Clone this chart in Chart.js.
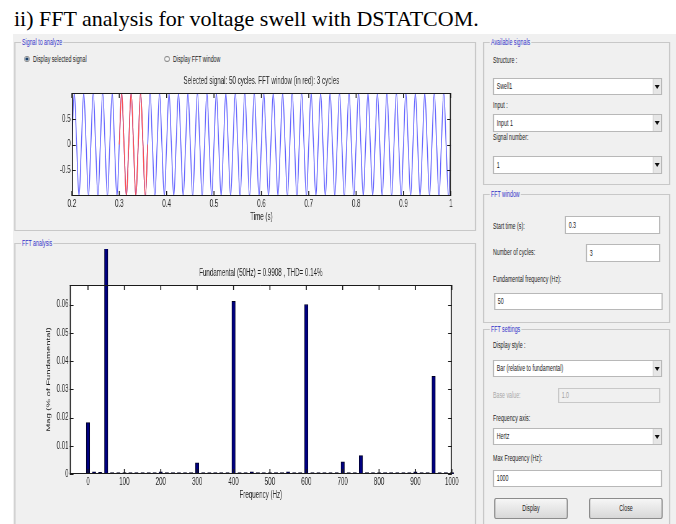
<!DOCTYPE html>
<html>
<head>
<meta charset="utf-8">
<script src="https://cdn.jsdelivr.net/npm/chart.js@4.4.1/dist/chart.umd.min.js"></script>
<style>
html,body{margin:0;padding:0;background:#fff;}
body{width:676px;height:524px;overflow:hidden;position:relative;font-family:"Liberation Sans",Arial,sans-serif;}
#title{position:absolute;left:14px;top:8px;font:22px/22px "Liberation Serif","Times New Roman",serif;color:#000;white-space:nowrap;}
#gui{position:absolute;left:13px;top:34px;width:1069px;height:490px;background:#f0f0f0;
     transform:scaleX(0.62);transform-origin:0 0;overflow:hidden;}
#gui div{position:absolute;box-sizing:border-box;}
.panel{border:1px solid #c8c8c8;border-left-width:2px;border-right-width:2px;}
.legend{position:absolute;left:9px;top:-7px;padding:0 2px;background:#f0f0f0;color:#3030c8;
        font-size:8.5px;line-height:12px;white-space:nowrap;}
.lbl{font-size:8.5px;line-height:12px;color:#222;white-space:nowrap;}
.lbl.off{color:#a8a8a8;}
.box{background:#fff;border:1px solid #b8b8b8;border-left-width:2px;border-right-width:2px;
     font-size:8.5px;color:#1a1a1a;padding-left:4px;white-space:nowrap;}
.box.off{background:#f0f0f0;color:#a0a0a0;border-color:#c8c8c8;}
.drop::before{content:"";position:absolute;right:0;top:0;bottom:0;width:12px;background:#e6e6e6;border-left:1px solid #d0d0d0;}
.drop::after{content:"";position:absolute;right:2px;top:50%;margin-top:-2px;
             border-left:4px solid transparent;border-right:4px solid transparent;border-top:4px solid #111;}
.btn{background:linear-gradient(#f6f6f6,#d8d8d8);border:1px solid #8c8c8c;border-left-width:2px;border-right-width:2px;
     border-radius:3px;font-size:8.5px;color:#1a1a1a;text-align:center;}
.radio{border:1px solid #8a8a8a;border-radius:50%;background:radial-gradient(#fff,#d8d8d8);}
.radio.on{background:radial-gradient(#1d3f66 35%,#8fa8c0 55%,#e0e0e0 70%);}
canvas{display:block;}
</style>
</head>
<body>
<div id="title">ii) FFT analysis for voltage swell with DSTATCOM.</div>
<div id="gui"></div>
<script>
// signal window (time axis in s, quarter-cycle samples of the 50 Hz wave)
const timeTicks = [0.2,0.3,0.4,0.5,0.6,0.7,0.8,0.9,1];
const signalTicks = [-0.5,0,0.5];
const signalT = [
  0.2,0.205,0.21,0.215,0.22,0.225,0.23,0.235,0.24,0.245,0.25,0.255,0.26,0.265,0.27,0.275,0.28,0.285,0.29,0.295,
  0.3,0.305,0.31,0.315,0.32,0.325,0.33,0.335,0.34,0.345,0.35,0.355,0.36,0.365,0.37,0.375,0.38,0.385,0.39,0.395,
  0.4,0.405,0.41,0.415,0.42,0.425,0.43,0.435,0.44,0.445,0.45,0.455,0.46,0.465,0.47,0.475,0.48,0.485,0.49,0.495,
  0.5,0.505,0.51,0.515,0.52,0.525,0.53,0.535,0.54,0.545,0.55,0.555,0.56,0.565,0.57,0.575,0.58,0.585,0.59,0.595,
  0.6,0.605,0.61,0.615,0.62,0.625,0.63,0.635,0.64,0.645,0.65,0.655,0.66,0.665,0.67,0.675,0.68,0.685,0.69,0.695,
  0.7,0.705,0.71,0.715,0.72,0.725,0.73,0.735,0.74,0.745,0.75,0.755,0.76,0.765,0.77,0.775,0.78,0.785,0.79,0.795,
  0.8,0.805,0.81,0.815,0.82,0.825,0.83,0.835,0.84,0.845,0.85,0.855,0.86,0.865,0.87,0.875,0.88,0.885,0.89,0.895,
  0.9,0.905,0.91,0.915,0.92,0.925,0.93,0.935,0.94,0.945,0.95,0.955,0.96,0.965,0.97,0.975,0.98,0.985,0.99,0.995,
  1
];
const signalV = [
  0,1,0,-1,0,1,0,-1,0,1,0,-1,0,1,0,-1,0,1,0,-1,
  0,1,0,-1,0,1,0,-1,0,1,0,-1,0,1,0,-1,0,1,0,-1,
  0,1,0,-1,0,1,0,-1,0,1,0,-1,0,1,0,-1,0,1,0,-1,
  0,1,0,-1,0,1,0,-1,0,1,0,-1,0,1,0,-1,0,1,0,-1,
  0,1,0,-1,0,1,0,-1,0,1,0,-1,0,1,0,-1,0,1,0,-1,
  0,1,0,-1,0,1,0,-1,0,1,0,-1,0,1,0,-1,0,1,0,-1,
  0,1,0,-1,0,1,0,-1,0,1,0,-1,0,1,0,-1,0,1,0,-1,
  0,1,0,-1,0,1,0,-1,0,1,0,-1,0,1,0,-1,0,1,0,-1,
  0
];
// FFT window, 3 cycles, drawn in red
const windowT = [0.3,0.305,0.31,0.315,0.32,0.325,0.33,0.335,0.34,0.345,0.35,0.355,0.36];
const windowV = [0,1,0,-1,0,1,0,-1,0,1,0,-1,0];

// FFT spectrum, bins every 16.7 Hz, magnitude in % of fundamental
const freqTicks = [0,100,200,300,400,500,600,700,800,900,1000];
const magTicks = [0,0.01,0.02,0.03,0.04,0.05,0.06];
const freqHz = [
  0,16.7,33.3,50,66.7,83.3,100,116.7,133.3,150,166.7,183.3,200,216.7,233.3,250,266.7,283.3,
  300,316.7,333.3,350,366.7,383.3,400,416.7,433.3,450,466.7,483.3,500,516.7,533.3,550,566.7,583.3,
  600,616.7,633.3,650,666.7,683.3,700,716.7,733.3,750,766.7,783.3,800,816.7,833.3,850,866.7,883.3,
  900,916.7,933.3,950,966.7,983.3,1000
];
const magPct = [
  0.0182,0.0008,0.0006,100,0.0002,0.0002,0.0005,0.0002,0.0002,0.0005,0.0002,0.0002,0.0008,0.0002,0.0002,0.0005,0.0002,0.0002,
  0.0040,0.0002,0.0002,0.0002,0.0002,0.0002,0.0612,0.0002,0.0002,0.0008,0.0002,0.0002,0.0002,0.0002,0.0002,0.0008,0.0002,0.0002,
  0.0601,0.0002,0.0002,0.0002,0.0002,0.0002,0.0043,0.0002,0.0002,0.0065,0.0002,0.0002,0.0002,0.0002,0.0002,0.0002,0.0002,0.0002,
  0.0008,0.0002,0.0002,0.0346,0.0002,0.0002,0.0002
];

// ---- GUI chrome (positions given in picture pixels, the panel is squeezed like the original screenshot)
const S = 0.62, GX = 13, GY = 34;
const gui = document.getElementById("gui");

function put(cls, text, x, y, w, h){
    const el = document.createElement("div");
    el.className = cls;
    if(text) el.textContent = text;
    el.style.left = (x - GX) / S + "px";
    el.style.top = (y - GY) + "px";
    if(w != null) el.style.width = w / S + "px";
    if(h != null) el.style.height = h + "px";
    gui.appendChild(el);
    return el;
}
function panel(title, x, y, w, h){
    const p = put("panel", "", x, y, w, h);
    const lg = document.createElement("span");
    lg.className = "legend";
    lg.textContent = title;
    p.appendChild(lg);
}
function label(text, x, y, off){ put("lbl" + (off ? " off" : ""), text, x, y - 6); }
function field(text, x1, y1, x2, y2, cls){
    const el = put("box" + (cls ? " " + cls : ""), text, x1, y1, x2 - x1, y2 - y1);
    el.style.lineHeight = (y2 - y1 - 2) + "px";
    return el;
}
function button(text, x1, y1, x2, y2){
    const el = put("btn", text, x1, y1, x2 - x1, y2 - y1);
    el.style.lineHeight = (y2 - y1 - 2) + "px";
}

panel("Signal to analyze", 14, 42, 462, 189);
panel("FFT analysis", 14, 243, 462, 300);
panel("Available signals", 483, 42, 187, 143);
panel("FFT window", 483, 194, 187, 129);
panel("FFT settings", 483, 329, 187, 200);

put("radio on", "", 24, 55.5, 5.5, 6);
label("Display selected signal", 33, 59);
put("radio", "", 164.5, 55.5, 5.5, 6);
label("Display FFT window", 173, 59);

label("Structure :", 493, 60);
field("Swell1", 493, 78, 662, 95, "drop");
label("Input :", 493, 105);
field("Input 1", 493, 114, 662, 132, "drop");
label("Signal number:", 493, 137);
field("1", 493, 156, 662, 174, "drop");

label("Start time (s):", 493, 226);
field("0.3", 565, 216, 660, 234);
label("Number of cycles:", 493, 252);
field("3", 586, 244, 660, 262);
label("Fundamental frequency (Hz):", 493, 279);
field("50", 494, 293, 663, 310);

label("Display style :", 493, 345);
field("Bar (relative to fundamental)", 493, 360, 662, 377, "drop");
label("Base value:", 493, 395, true);
field("1.0", 558, 388, 660, 403, "off");
label("Frequency axis:", 493, 418);
field("Hertz", 493, 428, 662, 445, "drop");
label("Max Frequency (Hz):", 493, 458);
field("1000", 493, 470, 662, 487);
button("Display", 494, 498, 568, 519);
button("Close", 589, 498, 663, 519);

// ---- charts
const FONT = '"Liberation Sans", Arial, sans-serif';
const INK = "#262626";

const matlabBox = {
    id: "matlabBox",
    beforeDraw(chart){
        const a = chart.chartArea, ctx = chart.ctx;
        ctx.save();
        ctx.fillStyle = "#fff";
        ctx.fillRect(a.left, a.top, a.right - a.left, a.bottom - a.top);
        ctx.restore();
    },
    afterDraw(chart){
        const {ctx, chartArea: a, scales: {x, y}} = chart;
        ctx.save();
        ctx.strokeStyle = "#1a1a1a";
        // vertical strokes are thicker because the canvas is squeezed sideways
        ctx.lineWidth = 1.6;
        ctx.beginPath();
        x.ticks.forEach(t => {
            const p = x.getPixelForValue(t.value);
            ctx.moveTo(p, a.bottom); ctx.lineTo(p, a.bottom - 5);
            ctx.moveTo(p, a.top); ctx.lineTo(p, a.top + 5);
        });
        ctx.moveTo(a.left + 0.8, a.top); ctx.lineTo(a.left + 0.8, a.bottom);
        ctx.moveTo(a.right - 0.8, a.top); ctx.lineTo(a.right - 0.8, a.bottom);
        ctx.stroke();
        ctx.lineWidth = 1;
        ctx.beginPath();
        y.ticks.forEach(t => {
            const p = Math.round(y.getPixelForValue(t.value)) + 0.5;
            ctx.moveTo(a.left, p); ctx.lineTo(a.left + 6, p);
            ctx.moveTo(a.right, p); ctx.lineTo(a.right - 6, p);
        });
        ctx.moveTo(a.left, Math.round(a.top) + 0.5); ctx.lineTo(a.right, Math.round(a.top) + 0.5);
        ctx.moveTo(a.left, Math.round(a.bottom) - 0.5); ctx.lineTo(a.right, Math.round(a.bottom) - 0.5);
        ctx.stroke();
        ctx.restore();
    }
};

function axis(min, max, tickList, opts){
    return Object.assign({
        type: "linear", min: min, max: max, offset: false,
        grid: {display: false, drawTicks: false},
        border: {display: false},
        afterBuildTicks: s => { s.ticks = tickList.map(v => ({value: v})); },
        ticks: {padding: 2, color: INK, font: {family: FONT, size: 10}, callback: v => String(v), autoSkip: false, maxRotation: 0}
    }, opts || {});
}

const sigWrap = put("", "", 20, 70, 450, 160);
const sigCanvas = document.createElement("canvas");
sigCanvas.width = 726; sigCanvas.height = 160;
sigWrap.appendChild(sigCanvas);

new Chart(sigCanvas, {
    type: "line",
    data: {
        datasets: [
            {data: windowT.map((t, i) => ({x: t, y: windowV[i]})), borderColor: "#ff4a4a", borderWidth: 1.5,
             pointRadius: 0, tension: 0.4},
            {data: signalT.map((t, i) => ({x: t, y: signalV[i]})), borderColor: "#6262ff", borderWidth: 1.5,
             pointRadius: 0, tension: 0.4}
        ]
    },
    options: {
        responsive: false, animation: false, devicePixelRatio: 1, events: [],
        layout: {padding: {left: 0, right: 30.8, top: 0, bottom: 0}},
        plugins: {
            legend: {display: false}, tooltip: {enabled: false},
            title: {display: true, fullSize: false, text: "Selected signal: 50 cycles. FFT window (in red): 3 cycles",
                    color: INK, font: {family: FONT, size: 10, weight: "normal"}, padding: {top: 5.7, bottom: 5.3}}
        },
        scales: {
            x: axis(0.2, 1, timeTicks, {
                title: {display: true, text: "Time (s)", color: INK, font: {family: FONT, size: 10}, padding: {top: 0, bottom: 6.5}},
                afterFit: s => { s.height = 34; }
            }),
            y: axis(-1, 1, signalTicks, {afterFit: s => { s.width = 84; }})
        }
    },
    plugins: [matlabBox]
});

const fftWrap = put("", "", 20, 249, 450, 261);
const fftCanvas = document.createElement("canvas");
fftCanvas.width = 726; fftCanvas.height = 261;
fftWrap.appendChild(fftCanvas);

new Chart(fftCanvas, {
    type: "bar",
    data: {
        datasets: [{
            data: freqHz.map((f, i) => ({x: f, y: magPct[i]})),
            backgroundColor: "#000080", borderColor: "#000022", borderWidth: 1,
            barThickness: 5.6, minBarLength: 1.5, clip: false
        }]
    },
    options: {
        responsive: false, animation: false, devicePixelRatio: 1, events: [],
        layout: {padding: {left: 0, right: 29.2, top: 0, bottom: 0}},
        plugins: {
            legend: {display: false}, tooltip: {enabled: false},
            title: {display: true, fullSize: false, text: "Fundamental (50Hz) = 0.9908 , THD= 0.14%",
                    color: INK, font: {family: FONT, size: 10, weight: "normal"}, padding: {top: 18.3, bottom: 5.7}}
        },
        scales: {
            x: axis(-50, 1000, freqTicks, {
                title: {display: true, text: "Frequency (Hz)", color: INK, font: {family: FONT, size: 10}, padding: {top: 0, bottom: 9}},
                afterFit: s => { s.height = 36; }
            }),
            y: axis(0, 0.067, magTicks, {
                title: {display: true, text: "Mag (% of Fundamental)", color: "#1a1a1a", font: {family: FONT, size: 9.5}, padding: {top: 40.6, bottom: 0}},
                afterFit: s => { s.width = 80.6; }
            })
        }
    },
    plugins: [matlabBox]
});
</script>
</body>
</html>
